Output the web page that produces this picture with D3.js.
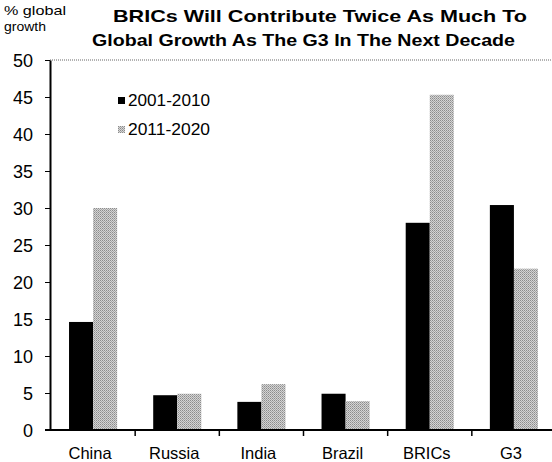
<!DOCTYPE html>
<html>
<head>
<meta charset="utf-8">
<script src="https://cdn.jsdelivr.net/npm/d3@7"></script>
<style>
  html, body { margin: 0; padding: 0; background: #fff; overflow: hidden; }
  svg { display: block; font-family: "Liberation Sans", Arial, sans-serif; }
</style>
</head>
<body>
<svg id="chart" width="552" height="462"></svg>
<script>
// Contribution to global growth, % share
const categories = ["China", "Russia", "India", "Brazil", "BRICs", "G3"];
const decade1 = [14.6, 4.7, 3.8, 4.9, 28.0, 30.4];   // 2001-2010
const decade2 = [30.0, 4.9, 6.2, 3.9, 45.3, 21.8];   // 2011-2020
const seriesNames = ["2001-2010", "2011-2020"];
const yTicks = [0, 5, 10, 15, 20, 25, 30, 35, 40, 45, 50];

const svg = d3.select("#chart");
const W = 552;
const plot = { left: 50, right: 556, top: 60, bottom: 430 };

// stippled grey fill for the second series
const defs = svg.append("defs");
const pat = defs.append("pattern")
  .attr("id", "stipple").attr("patternUnits", "userSpaceOnUse")
  .attr("width", 2).attr("height", 2);
pat.append("rect").attr("width", 2).attr("height", 2).attr("fill", "#d4d4d4");
pat.append("rect").attr("width", 1).attr("height", 1).attr("fill", "#8c8c8c");
pat.append("rect").attr("x", 1).attr("y", 1).attr("width", 1).attr("height", 1).attr("fill", "#a6a6a6");

const x = d3.scaleBand().domain(categories)
  .range([plot.left + 1, plot.right]).paddingInner(0).paddingOuter(0);
const x1 = d3.scaleBand().domain(seriesNames)
  .range([0, x.bandwidth()]).paddingOuter(0.75).paddingInner(0);
const y = d3.scaleLinear().domain([0, 50]).range([plot.bottom, plot.top]);

// dotted top edge of the plot frame
svg.append("line")
  .attr("x1", plot.left).attr("x2", W)
  .attr("y1", y(50)).attr("y2", y(50))
  .attr("stroke", "#666").attr("stroke-width", 1).attr("stroke-dasharray", "1,1");

const fills = ["#000", "url(#stipple)"];
const series = [decade1, decade2];
series.forEach((vals, si) => {
  svg.append("g").selectAll("rect")
    .data(categories)
    .join("rect")
    .attr("x", (c) => x(c) + x1(seriesNames[si]))
    .attr("width", x1.bandwidth())
    .attr("y", (c, i) => y(vals[i]))
    .attr("height", (c, i) => y(0) - y(vals[i]))
    .attr("fill", fills[si]);
});

// Y axis
const yAxis = svg.append("g")
  .attr("transform", `translate(${plot.left},0)`)
  .call(d3.axisLeft(y).tickValues(yTicks).tickSize(5).tickSizeOuter(0));
yAxis.select(".domain").attr("stroke", "#000").attr("stroke-width", 2);
yAxis.selectAll(".tick line").attr("stroke", "#000");
yAxis.selectAll("text")
  .attr("font-size", 18).attr("fill", "#000").attr("x", -17).attr("dy", "0.36em")
  .style("font-family", "'Liberation Sans', Arial, sans-serif");

// X axis with ticks at band boundaries
const xAxisG = svg.append("g").attr("transform", `translate(0,${y(0)})`);
xAxisG.append("line")
  .attr("x1", plot.left - 5).attr("x2", W)
  .attr("stroke", "#000").attr("stroke-width", 2);
xAxisG.selectAll("line.sep")
  .data(categories.slice(1))
  .join("line").attr("class", "sep")
  .attr("x1", (c) => x(c)).attr("x2", (c) => x(c))
  .attr("y1", 0).attr("y2", 6)
  .attr("stroke", "#000").attr("stroke-width", 1.5);
xAxisG.selectAll("text")
  .data(categories)
  .join("text")
  .attr("x", (c) => x(c) + x.bandwidth() / 2 - 3)
  .attr("y", 29)
  .attr("text-anchor", "middle")
  .attr("font-size", 16.5)
  .text((c) => c);

// Legend
const legend = svg.append("g");
seriesNames.forEach((name, i) => {
  const ly = 106 + i * 29;
  legend.append("rect")
    .attr("x", 118).attr("y", ly - 9).attr("width", 7).attr("height", 7)
    .attr("fill", fills[i]);
  legend.append("text")
    .attr("x", 128).attr("y", ly)
    .attr("font-size", 16)
    .attr("textLength", 82).attr("lengthAdjust", "spacingAndGlyphs")
    .text(name);
});

// Titles
svg.append("text").attr("x", 4).attr("y", 15).attr("font-size", 13)
  .attr("textLength", 62).attr("lengthAdjust", "spacingAndGlyphs").text("% global");
svg.append("text").attr("x", 4).attr("y", 31).attr("font-size", 13)
  .attr("textLength", 42).attr("lengthAdjust", "spacingAndGlyphs").text("growth");
svg.append("text").attr("x", 113).attr("y", 22)
  .attr("font-size", 17).attr("font-weight", "bold")
  .attr("textLength", 414).attr("lengthAdjust", "spacingAndGlyphs")
  .text("BRICs Will Contribute Twice As Much To");
svg.append("text").attr("x", 92).attr("y", 46)
  .attr("font-size", 17).attr("font-weight", "bold")
  .attr("textLength", 423).attr("lengthAdjust", "spacingAndGlyphs")
  .text("Global Growth  As The G3 In The Next Decade");
</script>
</body>
</html>
